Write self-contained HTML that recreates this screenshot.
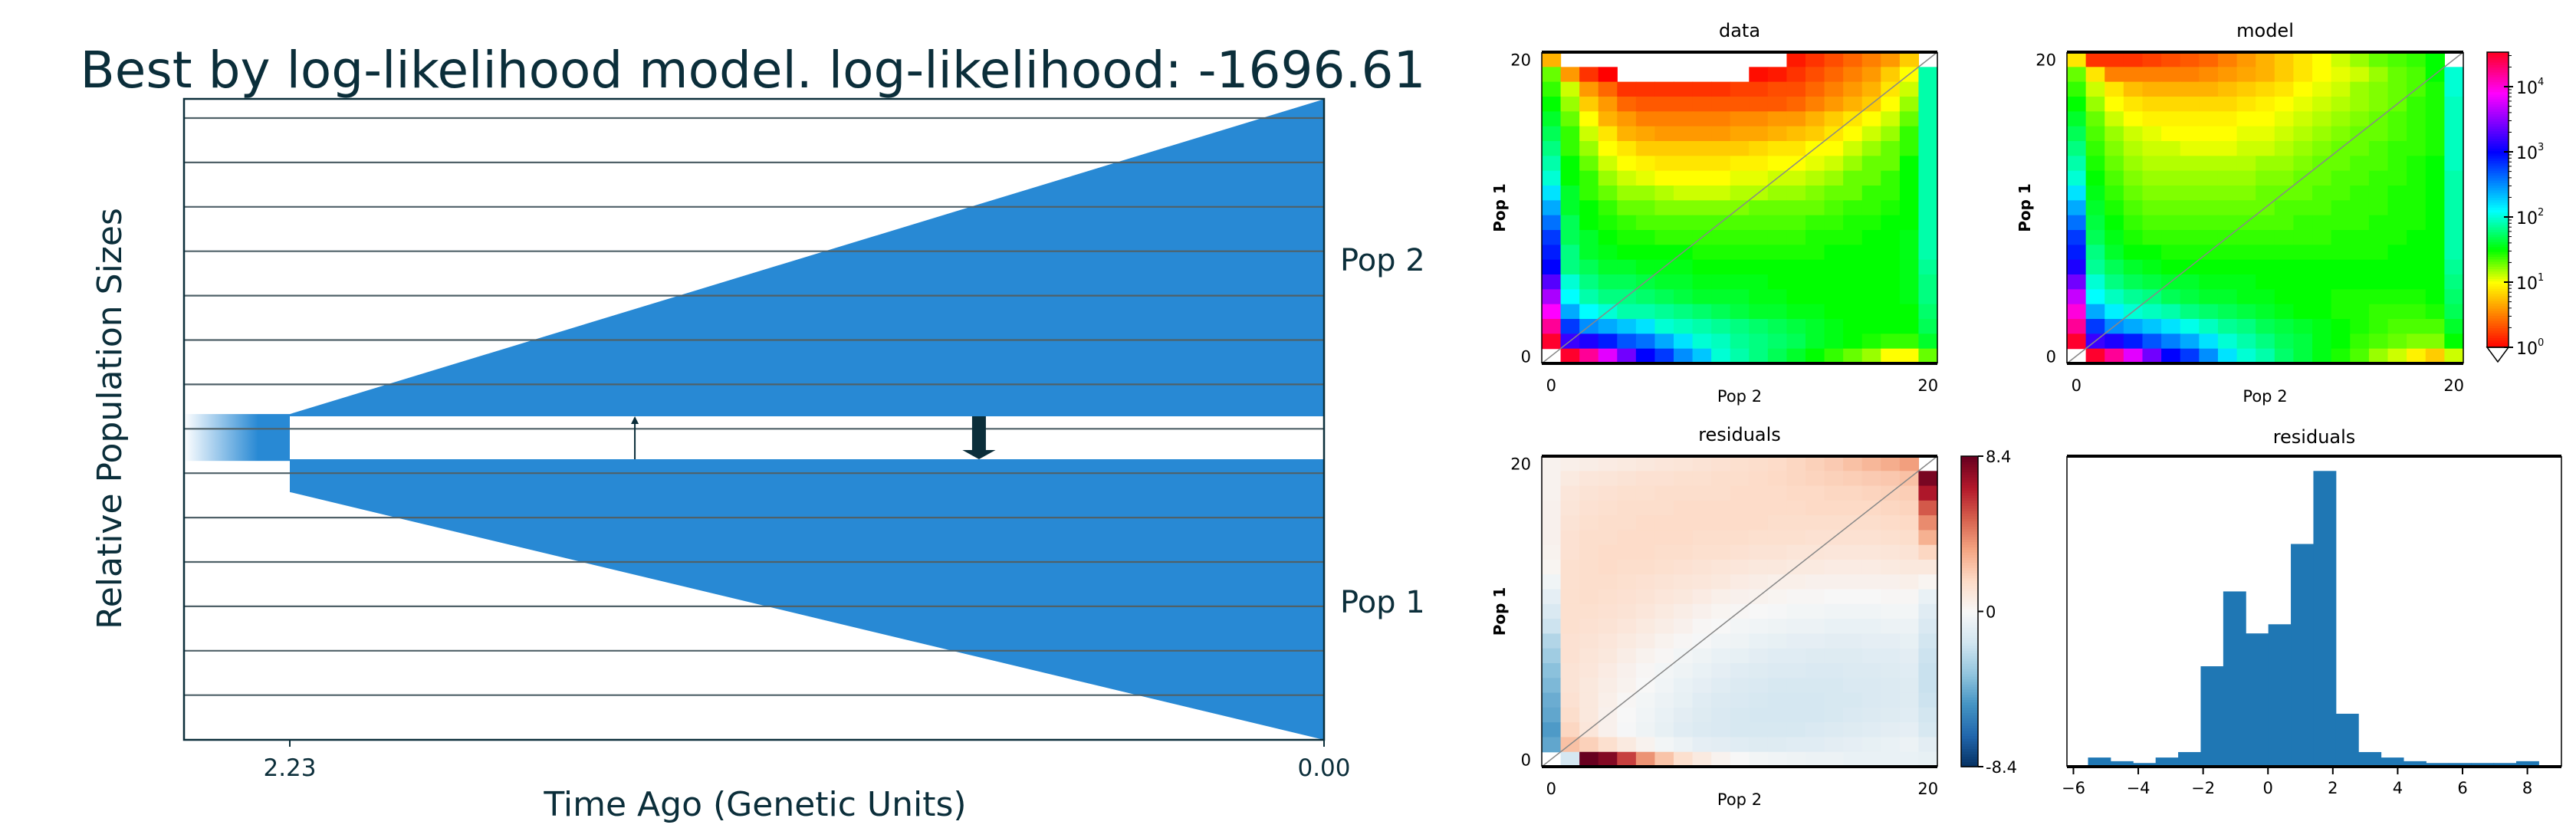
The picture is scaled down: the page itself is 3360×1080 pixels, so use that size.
<!DOCTYPE html>
<html><head><meta charset="utf-8">
<style>
html,body{margin:0;padding:0;background:#fff;}
svg{display:block;}
text{font-family:"DejaVu Sans","Liberation Sans",sans-serif;}
</style></head>
<body>
<svg id="fig" width="3360" height="1080" viewBox="0 0 3360 1080" xmlns="http://www.w3.org/2000/svg">
<defs>
<linearGradient id="ancGrad" x1="0" x2="1" y1="0" y2="0">
<stop offset="0" stop-color="#ffffff"/><stop offset="0.7" stop-color="#2889d4"/><stop offset="1" stop-color="#2889d4"/>
</linearGradient>
</defs>
<g id="left"></g>
<g id="hm"></g>
<g id="hist"></g>
</svg>
<script>
// ---------- Demography data ----------
const splitTime = 2.23;
const timeTickLabels = ["2.23","0.00"];
const pop1Sizes = [0.117, 1.0];
const pop2Sizes = [0.008, 1.13];
const ancestralSize = 0.167;
const migTimes = [1.486, 0.744];
const migWidths = [2, 18];
const migDirs = ["up","down"];

// ---------- Heatmap data (log10 counts), rows top (Pop1=20) to bottom (Pop1=0) ----------
const dataRows = [
[0.7,null,null,null,null,null,null,null,null,null,null,null,null,0.1,0.2,0.3,0.4,0.5,0.6,0.8,null],
[1.3,0.6,0.2,0.0,null,null,null,null,null,null,null,0.05,0.1,0.2,0.3,0.4,0.5,0.6,0.8,1.0,1.9],
[1.4,1.1,0.6,0.4,0.2,0.2,0.2,0.2,0.2,0.2,0.25,0.25,0.3,0.3,0.4,0.5,0.6,0.7,0.9,1.1,1.9],
[1.5,1.2,0.8,0.6,0.4,0.35,0.35,0.35,0.35,0.35,0.35,0.35,0.35,0.4,0.5,0.6,0.7,0.8,1.0,1.2,1.9],
[1.6,1.3,1.0,0.7,0.6,0.5,0.5,0.5,0.5,0.5,0.55,0.55,0.6,0.6,0.7,0.8,0.9,1.0,1.1,1.3,1.9],
[1.7,1.4,1.1,0.9,0.7,0.65,0.6,0.6,0.6,0.6,0.65,0.65,0.7,0.75,0.8,0.9,1.0,1.1,1.2,1.4,1.9],
[1.8,1.4,1.2,1.0,0.9,0.8,0.8,0.8,0.8,0.8,0.8,0.85,0.9,0.9,1.0,1.0,1.1,1.2,1.3,1.4,1.9],
[1.9,1.5,1.3,1.1,1.0,0.95,0.9,0.9,0.9,0.9,0.95,0.95,1.0,1.0,1.05,1.1,1.2,1.3,1.3,1.5,1.9],
[2.0,1.5,1.4,1.2,1.1,1.05,1.0,1.0,1.0,1.0,1.05,1.05,1.1,1.1,1.15,1.2,1.3,1.3,1.4,1.5,1.9],
[2.2,1.6,1.4,1.3,1.2,1.2,1.15,1.1,1.1,1.1,1.15,1.15,1.2,1.2,1.25,1.3,1.3,1.4,1.4,1.5,1.9],
[2.4,1.6,1.5,1.4,1.3,1.3,1.25,1.25,1.25,1.25,1.25,1.3,1.3,1.3,1.3,1.35,1.4,1.4,1.45,1.5,1.9],
[2.6,1.7,1.5,1.45,1.4,1.35,1.35,1.35,1.35,1.35,1.35,1.35,1.35,1.35,1.4,1.4,1.45,1.45,1.5,1.5,1.9],
[2.8,1.7,1.6,1.5,1.45,1.45,1.4,1.4,1.4,1.4,1.4,1.4,1.4,1.4,1.45,1.45,1.45,1.5,1.5,1.55,1.9],
[2.9,1.8,1.6,1.55,1.5,1.5,1.5,1.5,1.45,1.45,1.45,1.45,1.45,1.45,1.45,1.5,1.5,1.5,1.5,1.55,1.9],
[3.0,1.8,1.7,1.6,1.6,1.55,1.55,1.55,1.5,1.5,1.5,1.5,1.5,1.5,1.5,1.5,1.5,1.5,1.5,1.55,1.85],
[3.3,2.0,1.8,1.7,1.7,1.65,1.6,1.6,1.55,1.55,1.55,1.55,1.5,1.5,1.5,1.5,1.5,1.5,1.5,1.55,1.8],
[3.6,2.1,1.9,1.8,1.8,1.75,1.7,1.65,1.6,1.6,1.6,1.55,1.55,1.5,1.5,1.5,1.5,1.5,1.5,1.55,1.8],
[3.9,2.4,2.1,2.0,1.9,1.9,1.85,1.8,1.75,1.7,1.65,1.6,1.6,1.55,1.55,1.5,1.5,1.5,1.5,1.5,1.75],
[4.2,2.8,2.5,2.4,2.3,2.2,2.0,1.95,1.9,1.85,1.8,1.75,1.7,1.65,1.6,1.55,1.5,1.5,1.5,1.5,1.7],
[4.5,3.2,3.1,2.9,2.7,2.6,2.4,2.2,2.0,1.95,1.85,1.8,1.75,1.7,1.6,1.55,1.5,1.45,1.4,1.4,1.6],
[null,4.5,4.2,3.8,3.4,3.0,2.8,2.5,2.3,2.0,1.9,1.8,1.7,1.6,1.5,1.4,1.3,1.2,1.0,1.0,1.3]
];
const modelRows = [
[0.9,0.2,0.2,0.2,0.25,0.3,0.35,0.4,0.5,0.6,0.7,0.8,0.9,1.0,1.1,1.2,1.3,1.35,1.4,1.5,null],
[1.3,0.9,0.5,0.5,0.5,0.5,0.5,0.55,0.6,0.65,0.7,0.8,0.9,1.0,1.05,1.1,1.2,1.3,1.35,1.5,2.0],
[1.4,1.1,0.9,0.75,0.7,0.7,0.7,0.7,0.75,0.8,0.85,0.9,1.0,1.05,1.1,1.2,1.25,1.3,1.35,1.45,2.0],
[1.5,1.2,1.0,0.9,0.85,0.85,0.85,0.85,0.85,0.9,0.95,1.0,1.05,1.1,1.15,1.2,1.25,1.3,1.4,1.45,1.95],
[1.6,1.3,1.1,1.0,0.95,0.95,0.95,0.95,0.95,1.0,1.0,1.05,1.1,1.15,1.2,1.25,1.3,1.35,1.4,1.45,1.95],
[1.7,1.35,1.2,1.1,1.05,1.0,1.0,1.0,1.0,1.05,1.05,1.1,1.15,1.2,1.25,1.3,1.3,1.35,1.4,1.45,1.95],
[1.8,1.4,1.25,1.15,1.1,1.1,1.05,1.05,1.05,1.1,1.1,1.15,1.2,1.25,1.3,1.3,1.35,1.4,1.4,1.45,1.95],
[1.9,1.45,1.3,1.2,1.15,1.15,1.15,1.15,1.15,1.15,1.2,1.2,1.25,1.3,1.3,1.35,1.35,1.4,1.45,1.5,1.95],
[2.0,1.5,1.35,1.25,1.2,1.2,1.2,1.2,1.2,1.2,1.25,1.25,1.3,1.3,1.35,1.35,1.4,1.4,1.45,1.5,1.9],
[2.2,1.55,1.4,1.3,1.25,1.25,1.25,1.25,1.25,1.25,1.3,1.3,1.3,1.35,1.35,1.4,1.4,1.45,1.45,1.5,1.9],
[2.4,1.6,1.45,1.35,1.3,1.3,1.3,1.3,1.3,1.3,1.3,1.35,1.35,1.35,1.4,1.4,1.4,1.45,1.45,1.5,1.9],
[2.6,1.65,1.5,1.4,1.35,1.35,1.35,1.35,1.35,1.35,1.35,1.35,1.4,1.4,1.4,1.4,1.45,1.45,1.45,1.5,1.9],
[2.8,1.7,1.55,1.45,1.4,1.4,1.4,1.4,1.4,1.4,1.4,1.4,1.4,1.4,1.45,1.45,1.45,1.45,1.5,1.5,1.9],
[2.9,1.8,1.6,1.5,1.5,1.45,1.45,1.45,1.45,1.45,1.45,1.45,1.45,1.45,1.45,1.45,1.45,1.5,1.5,1.5,1.9],
[3.1,1.85,1.7,1.6,1.55,1.5,1.5,1.5,1.5,1.5,1.5,1.5,1.5,1.5,1.5,1.5,1.5,1.5,1.5,1.5,1.85],
[3.4,2.0,1.8,1.7,1.65,1.6,1.6,1.55,1.55,1.55,1.5,1.5,1.5,1.5,1.5,1.5,1.5,1.5,1.5,1.5,1.8],
[3.7,2.1,1.95,1.85,1.8,1.7,1.65,1.6,1.6,1.55,1.55,1.5,1.5,1.5,1.45,1.45,1.45,1.45,1.45,1.5,1.75],
[4.0,2.4,2.15,2.0,1.95,1.9,1.8,1.75,1.7,1.65,1.6,1.55,1.5,1.5,1.45,1.45,1.4,1.4,1.4,1.45,1.7],
[4.2,2.8,2.5,2.4,2.3,2.2,2.05,1.95,1.85,1.8,1.7,1.65,1.6,1.55,1.5,1.45,1.4,1.35,1.35,1.35,1.6],
[4.5,3.2,3.1,2.9,2.7,2.55,2.4,2.2,2.0,1.9,1.8,1.7,1.65,1.55,1.5,1.4,1.35,1.3,1.25,1.25,1.5],
[null,4.5,4.2,3.8,3.4,3.0,2.8,2.5,2.2,2.0,1.9,1.75,1.65,1.55,1.45,1.35,1.2,1.1,0.95,0.8,1.1]
];
const residRows = [
[0.3,0.5,0.6,0.7,0.8,0.9,1.0,1.1,1.2,1.3,1.4,1.5,1.6,1.8,2.0,2.2,2.5,2.8,3.1,3.5,null],
[0.3,0.8,1.0,1.1,1.2,1.3,1.3,1.4,1.4,1.5,1.5,1.6,1.7,1.8,1.9,2.0,2.1,2.2,2.3,2.5,8.0],
[0.3,1.0,1.2,1.3,1.4,1.4,1.5,1.5,1.5,1.5,1.6,1.6,1.6,1.7,1.7,1.8,1.8,1.9,2.0,2.1,6.8],
[0.4,1.1,1.3,1.4,1.5,1.5,1.5,1.6,1.6,1.6,1.6,1.6,1.6,1.6,1.7,1.7,1.7,1.7,1.8,1.9,5.2],
[0.4,1.2,1.4,1.5,1.5,1.6,1.6,1.6,1.6,1.6,1.6,1.6,1.5,1.5,1.5,1.5,1.5,1.5,1.6,1.7,4.0],
[0.4,1.3,1.5,1.5,1.6,1.6,1.6,1.6,1.5,1.5,1.5,1.4,1.4,1.4,1.3,1.3,1.3,1.3,1.4,1.5,3.0],
[0.3,1.3,1.5,1.6,1.6,1.6,1.5,1.5,1.4,1.4,1.3,1.2,1.2,1.1,1.1,1.0,1.0,1.0,1.1,1.2,1.8],
[0.2,1.4,1.5,1.6,1.5,1.5,1.4,1.3,1.2,1.1,1.0,0.9,0.9,0.8,0.8,0.7,0.7,0.7,0.8,0.9,0.9],
[-0.3,1.4,1.5,1.5,1.4,1.3,1.2,1.1,1.0,0.9,0.7,0.6,0.5,0.5,0.4,0.4,0.4,0.4,0.4,0.5,0.2],
[-0.8,1.4,1.5,1.4,1.3,1.2,1.0,0.9,0.7,0.5,0.4,0.3,0.2,0.1,0.1,0.0,0.0,0.0,0.1,0.1,-0.6],
[-1.3,1.4,1.4,1.3,1.2,1.0,0.8,0.6,0.4,0.2,0.1,0.0,-0.1,-0.2,-0.2,-0.3,-0.3,-0.3,-0.2,-0.2,-1.0],
[-1.8,1.4,1.3,1.2,1.0,0.8,0.6,0.4,0.1,0.0,-0.2,-0.3,-0.4,-0.5,-0.5,-0.6,-0.6,-0.6,-0.5,-0.5,-1.3],
[-2.5,1.3,1.2,1.0,0.8,0.6,0.3,0.1,-0.1,-0.3,-0.4,-0.6,-0.7,-0.8,-0.8,-0.9,-0.9,-0.8,-0.8,-0.7,-1.6],
[-3.0,1.3,1.1,0.9,0.6,0.3,0.1,-0.2,-0.4,-0.6,-0.7,-0.9,-1.0,-1.0,-1.1,-1.1,-1.1,-1.0,-1.0,-0.9,-1.8],
[-3.5,1.2,1.0,0.7,0.4,0.1,-0.2,-0.4,-0.6,-0.8,-1.0,-1.1,-1.2,-1.2,-1.3,-1.3,-1.2,-1.2,-1.1,-1.0,-1.9],
[-3.8,1.2,0.9,0.6,0.3,0.0,-0.3,-0.6,-0.8,-1.0,-1.2,-1.3,-1.4,-1.4,-1.4,-1.4,-1.3,-1.3,-1.2,-1.1,-1.9],
[-4.2,1.3,0.9,0.5,0.1,-0.2,-0.5,-0.7,-1.0,-1.2,-1.3,-1.4,-1.5,-1.5,-1.5,-1.4,-1.4,-1.3,-1.2,-1.1,-1.8],
[-4.4,1.5,0.9,0.4,0.0,-0.3,-0.6,-0.9,-1.1,-1.3,-1.4,-1.5,-1.5,-1.5,-1.5,-1.4,-1.3,-1.2,-1.1,-1.0,-1.6],
[-4.8,1.8,1.0,0.4,-0.1,-0.4,-0.7,-1.0,-1.2,-1.3,-1.4,-1.4,-1.4,-1.4,-1.3,-1.2,-1.1,-1.0,-0.9,-0.8,-1.4],
[-4.4,2.5,2.0,1.4,0.8,0.3,-0.2,-0.5,-0.8,-0.9,-1.0,-1.1,-1.1,-1.0,-1.0,-0.9,-0.8,-0.7,-0.6,-0.5,-0.9],
[null,-1.5,8.4,7.8,5.8,3.8,2.4,1.4,0.8,0.3,0.0,-0.2,-0.3,-0.4,-0.5,-0.5,-0.6,-0.6,-0.6,-0.6,-0.7]
];
const heatTickLabels = ["0","20"];
const logCbarTicks = [0,1,2,3,4];
const residCbarTicks = ["-8.4","0","8.4"];
const residMax = 8.4;

// ---------- Histogram data ----------
const histEdgeMin = -5.55, histEdgeMax = 8.35;
const histCounts = [5,3,2,5,8,55,96,73,78,122,162,29,8,5,3,2,2,2,2,3];
const histTicks = [-6,-4,-2,0,2,4,6,8];

const NS = "http://www.w3.org/2000/svg";
function mk(parent, tag, attrs, txt){
  const e = document.createElementNS(NS, tag);
  for (const k in attrs) e.setAttribute(k, attrs[k]);
  if (txt !== undefined) e.textContent = txt;
  parent.appendChild(e);
  return e;
}

// ================= LEFT PLOT =================
(function(){
  const g = document.getElementById('left');
  const L=240, R=1727, T=129, B=965;
  const unit = 366;
  const xT = t => R - (t/splitTime)*(R-378);
  const pop1Top = 599;
  const gap = 56;
  const pop2Bot = pop1Top - gap;
  const xs = xT(splitTime), xe = xT(0);
  let e = mk(g,'rect',{x:L,y:pop2Bot - pop2Sizes[0]*unit, width:xs-L, height:ancestralSize*unit, fill:'url(#ancGrad)'});
  
  
  const p2 = `${xs},${pop2Bot - pop2Sizes[0]*unit} ${xe},${pop2Bot - pop2Sizes[1]*unit} ${xe},${pop2Bot} ${xs},${pop2Bot}`;
  e = mk(g,'polygon',{points:p2, fill:'#2889d4'});
  
  
  const p1 = `${xs},${pop1Top} ${xe},${pop1Top} ${xe},${pop1Top + pop1Sizes[1]*unit} ${xs},${pop1Top + pop1Sizes[0]*unit}`;
  e = mk(g,'polygon',{points:p1, fill:'#2889d4'});
  
  
  for (let k=0;k<14;k++){
    const y = 154 + k*57.9;
    e = mk(g,'line',{x1:L,x2:R,y1:y,y2:y,stroke:'#4f6168','stroke-width':2.2});
    
    
  }
  migTimes.forEach((t,i)=>{
    const x = xT(t), w = migWidths[i];
    const ag = mk(g,'g',{});
    
    
    if (migDirs[i]==='up'){
      mk(ag,'line',{x1:x,x2:x,y1:pop1Top,y2:pop2Bot+8,stroke:'#0b2e3a','stroke-width':w});
      mk(ag,'polygon',{points:`${x-5},${pop2Bot+10} ${x+5},${pop2Bot+10} ${x},${pop2Bot}`,fill:'#0b2e3a'});
    } else {
      mk(ag,'rect',{x:x-w/2,y:pop2Bot,width:w,height:gap-10,fill:'#0b2e3a'});
      mk(ag,'polygon',{points:`${x-w*1.2},${pop1Top-12} ${x+w*1.2},${pop1Top-12} ${x},${pop1Top}`,fill:'#0b2e3a'});
    }
  });
  e = mk(g,'rect',{x:L,y:T,width:R-L,height:B-T,fill:'none',stroke:'#0b2e3a','stroke-width':2.5});
  
  
  e = mk(g,'text',{x:982,y:114,'font-size':66,'text-anchor':'middle',fill:'#0b2e3a'},'Best by log-likelihood model. log-likelihood: -1696.61');
  
  
  [splitTime,0].forEach((t,i)=>{
    const x = xT(t);
    mk(g,'line',{x1:x,x2:x,y1:B,y2:B+9,stroke:'#0b2e3a','stroke-width':2});
    e = mk(g,'text',{x:x,y:1012,'font-size':31,'text-anchor':'middle',fill:'#0b2e3a'},timeTickLabels[i]);
    
    
  });
  e = mk(g,'text',{x:985,y:1064,'font-size':44,'text-anchor':'middle',fill:'#0b2e3a'},'Time Ago (Genetic Units)');
  
  
  e = mk(g,'text',{x:0,y:0,'font-size':44,'text-anchor':'middle',fill:'#0b2e3a',transform:'translate(158,546) rotate(-90)'},'Relative Population Sizes');
  
  
  e = mk(g,'text',{x:1748,y:353,'font-size':40,fill:'#0b2e3a'},'Pop 2');
  
  
  e = mk(g,'text',{x:1748,y:799,'font-size':40,fill:'#0b2e3a'},'Pop 1');
  
  
})();

// ================= HEATMAPS =================
const hueStops = [[0,0],[1,60],[1.5,120],[2.1,180],[3,240],[3.9,300],[4.53,352]];
function logColor(v){
  if (v<=hueStops[0][0]) return 'hsl(0,100%,50%)';
  for (let k=1;k<hueStops.length;k++){
    if (v<=hueStops[k][0]){
      const a=hueStops[k-1], b=hueStops[k];
      const h = a[1] + (v-a[0])/(b[0]-a[0])*(b[1]-a[1]);
      return `hsl(${h},100%,50%)`;
    }
  }
  return 'hsl(352,100%,50%)';
}
const rdbu = [[-1,[5,48,97]],[-0.8,[33,102,172]],[-0.6,[67,147,195]],[-0.4,[146,197,222]],[-0.2,[209,229,240]],[0,[247,247,247]],[0.2,[253,219,199]],[0.4,[244,165,130]],[0.6,[214,96,77]],[0.8,[178,24,43]],[1,[103,0,31]]];
function divColor(v){
  const f = Math.max(-1,Math.min(1,v/residMax));
  for (let k=1;k<rdbu.length;k++){
    if (f<=rdbu[k][0]){
      const a=rdbu[k-1], b=rdbu[k], t=(f-a[0])/(b[0]-a[0]);
      const c=[0,1,2].map(i=>Math.round(a[1][i]+t*(b[1][i]-a[1][i])));
      return `rgb(${c[0]},${c[1]},${c[2]})`;
    }
  }
  return 'rgb(103,0,31)';
}

function heatmap(name, rows, L, T, R, B, colorFn, title){
  const root = document.getElementById('hm');
  const g = mk(root,'g',{});
  
  
  const n = rows.length;
  const cw = (R-L)/n, ch=(B-T)/n;
  const xCol = j => L + j*cw;
  const yRow = r => T + r*ch;
  rows.forEach((row,r)=>{
    row.forEach((v,j)=>{
      if (v===null) return;
      const c = mk(g,'rect',{x:xCol(j),y:yRow(r),width:cw+0.6,height:ch+0.6,fill:colorFn(v)});
      
      
    });
  });
  let e = mk(g,'line',{x1:L,y1:B,x2:R,y2:T,stroke:'#888','stroke-width':1.5});
  
  
  mk(g,'line',{x1:L,x2:R,y1:T,y2:T,stroke:'#000','stroke-width':4});
  mk(g,'line',{x1:L,x2:R,y1:B,y2:B,stroke:'#000','stroke-width':4});
  mk(g,'line',{x1:L,x2:L,y1:T,y2:B,stroke:'#000','stroke-width':1.5});
  mk(g,'line',{x1:R,x2:R,y1:T,y2:B,stroke:'#000','stroke-width':1.5});
  e = mk(g,'text',{x:(L+R)/2,y:T-20,'font-size':24,'text-anchor':'middle'},title);
  
  
  e = mk(g,'text',{x:L+cw/2,y:B+36,'font-size':21,'text-anchor':'middle'},heatTickLabels[0]);
  
  
  e = mk(g,'text',{x:R-cw/2,y:B+36,'font-size':21,'text-anchor':'middle'},heatTickLabels[1]);
  
  
  e = mk(g,'text',{x:L-14,y:B-ch/2+8,'font-size':21,'text-anchor':'end'},heatTickLabels[0]);
  
  
  e = mk(g,'text',{x:L-14,y:T+ch/2+8,'font-size':21,'text-anchor':'end'},heatTickLabels[1]);
  
  
  e = mk(g,'text',{x:(L+R)/2,y:B+50,'font-size':21,'text-anchor':'middle'},'Pop 2');
  
  
  e = mk(g,'text',{x:0,y:0,'font-size':20,'font-weight':'bold','text-anchor':'middle',transform:`translate(${L-48},${(T+B)/2}) rotate(-90)`},'Pop 1');
  
  
}
heatmap('data-heatmap', dataRows, 2011, 68, 2527, 474, logColor, 'data');
heatmap('model-heatmap', modelRows, 2696, 68, 3213, 474, logColor, 'model');
heatmap('residual-heatmap', residRows, 2011, 595, 2527, 1000, divColor, 'residuals');

(function(){
  const root = document.getElementById('hm');
  const g = mk(root,'g',{});
  
  
  const L=3244, R=3272, T=68, B=453;
  const vmax = 4.53;
  const yL = v => B - v/vmax*(B-T);
  const steps = 120;
  for (let k=0;k<steps;k++){
    const v0 = k/steps*vmax;
    mk(g,'rect',{x:L,y:yL(v0+vmax/steps),width:R-L,height:(B-T)/steps+0.8,fill:logColor(v0+vmax/steps/2)});
  }
  mk(g,'polygon',{points:`${L},${B} ${R},${B} ${(L+R)/2},${B+19}`,fill:'#fff',stroke:'#000','stroke-width':1.5});
  mk(g,'rect',{x:L,y:T,width:R-L,height:B-T,fill:'none',stroke:'#000','stroke-width':1.5});
  logCbarTicks.forEach(t=>{
    const y = yL(t);
    mk(g,'line',{x1:R-6,x2:R+6,y1:y,y2:y,stroke:'#000','stroke-width':2});
    const e = mk(g,'text',{x:R+10,y:y+9,'font-size':22},'10');
    
    
    mk(e,'tspan',{dy:-11,'font-size':13},String(t));
    for (let m=2;m<10 && t<4.53;m++){
      const ym = yL(t+Math.log10(m));
      if (ym>T) mk(g,'line',{x1:R,x2:R+4,y1:ym,y2:ym,stroke:'#000','stroke-width':1});
    }
  });
})();
(function(){
  const root = document.getElementById('hm');
  const g = mk(root,'g',{});
  
  
  const L=2558, R=2580, T=595, B=1000;
  const yR = v => B - (v+residMax)/(2*residMax)*(B-T);
  const steps=120;
  for (let k=0;k<steps;k++){
    const v = -residMax + (k+0.5)/steps*2*residMax;
    mk(g,'rect',{x:L,y:yR(v)-(B-T)/steps/2,width:R-L,height:(B-T)/steps+0.8,fill:divColor(v)});
  }
  mk(g,'rect',{x:L,y:T,width:R-L,height:B-T,fill:'none',stroke:'#000','stroke-width':1.5});
  residCbarTicks.forEach(s=>{
    const y = yR(parseFloat(s));
    mk(g,'line',{x1:R,x2:R+7,y1:y,y2:y,stroke:'#000','stroke-width':2});
    const e = mk(g,'text',{x:R+10,y:y+8,'font-size':21},s);
    
    
  });
})();

// ================= HISTOGRAM =================
(function(){
  const g = document.getElementById('hist');
  const L=2696, R=3341, T=595, B=1000;
  const xmin=-6.2, xmax=9.05;
  const ymax = Math.max(...histCounts)*1.05;
  const xS = v => L + (v-xmin)/(xmax-xmin)*(R-L);
  const yS = v => B - v/ymax*(B-T);
  const bw = (histEdgeMax-histEdgeMin)/histCounts.length;
  histCounts.forEach((c,i)=>{
    const x0 = xS(histEdgeMin+i*bw), x1 = xS(histEdgeMin+(i+1)*bw);
    const e = mk(g,'rect',{x:x0,y:yS(c),width:x1-x0+0.5,height:B-yS(c),fill:'#1f77b4'});
    
    
  });
  mk(g,'line',{x1:L,x2:R,y1:T,y2:T,stroke:'#000','stroke-width':4});
  mk(g,'line',{x1:L,x2:R,y1:B,y2:B,stroke:'#000','stroke-width':4});
  mk(g,'line',{x1:L,x2:L,y1:T,y2:B,stroke:'#000','stroke-width':1.5});
  mk(g,'line',{x1:R,x2:R,y1:T,y2:B,stroke:'#000','stroke-width':1.5});
  histTicks.forEach(t=>{
    const x = xS(t);
    mk(g,'line',{x1:x,x2:x,y1:B,y2:B+10,stroke:'#000','stroke-width':2});
    const e = mk(g,'text',{x:x,y:B+35,'font-size':21,'text-anchor':'middle'},String(t).replace('-','\u2212'));
    
    
  });
  const e = mk(g,'text',{x:(L+R)/2,y:T-17,'font-size':24,'text-anchor':'middle'},'residuals');
  
  
})();
</script>
</body></html>
